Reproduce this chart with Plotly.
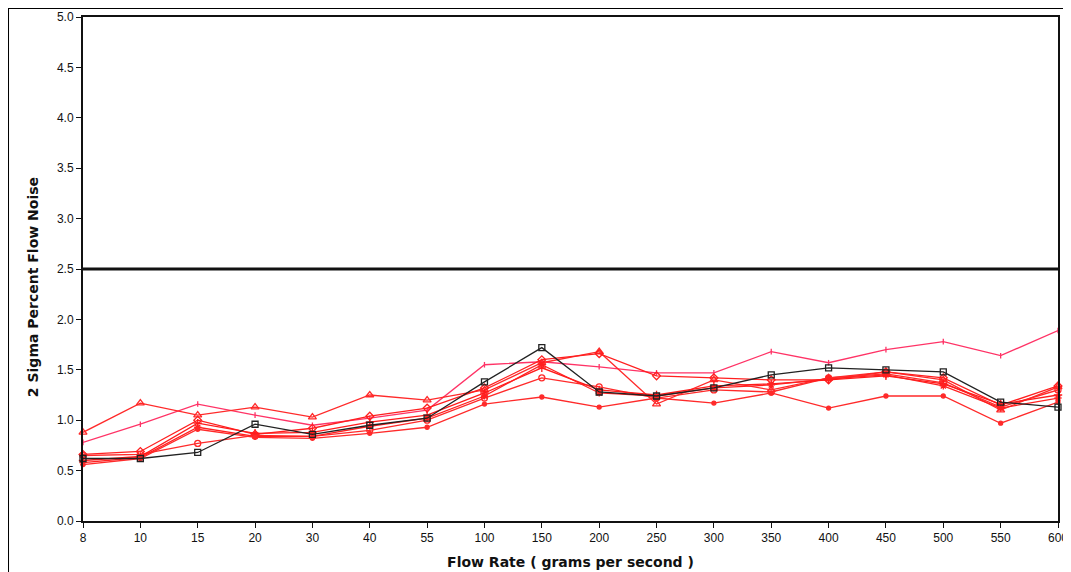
import plotly.graph_objects as go

flow_rates = ["8", "10", "15", "20", "30", "40", "55", "100", "150", "200",
              "250", "300", "350", "400", "450", "500", "550", "600"]

black_sq = [0.62, 0.62, 0.68, 0.96, 0.86, 0.95, 1.02, 1.38, 1.72, 1.28, 1.24, 1.32, 1.45, 1.52, 1.50, 1.48, 1.18, 1.13]
red_tri = [0.88, 1.17, 1.05, 1.13, 1.03, 1.25, 1.20, 1.30, 1.57, 1.68, 1.16, 1.40, 1.30, 1.42, 1.48, 1.40, 1.10, 1.33]
pink_top = [0.78, 0.96, 1.16, 1.05, 0.95, 1.02, 1.10, 1.55, 1.58, 1.53, 1.47, 1.47, 1.68, 1.57, 1.70, 1.78, 1.64, 1.89]
red_circle = [0.65, 0.66, 0.77, 0.85, 0.84, 0.90, 1.00, 1.22, 1.42, 1.33, 1.22, 1.30, 1.28, 1.42, 1.46, 1.37, 1.13, 1.30]
red_diamond = [0.66, 0.69, 1.00, 0.86, 0.92, 1.04, 1.12, 1.32, 1.60, 1.66, 1.44, 1.42, 1.40, 1.40, 1.48, 1.42, 1.15, 1.34]
red_plus = [0.60, 0.64, 0.97, 0.87, 0.88, 0.98, 1.05, 1.27, 1.52, 1.30, 1.25, 1.34, 1.36, 1.40, 1.44, 1.36, 1.16, 1.25]
red_star = [0.58, 0.63, 0.93, 0.84, 0.84, 0.94, 1.02, 1.24, 1.55, 1.27, 1.24, 1.32, 1.35, 1.41, 1.45, 1.34, 1.12, 1.22]
red_bottom = [0.56, 0.62, 0.91, 0.83, 0.82, 0.87, 0.93, 1.16, 1.23, 1.13, 1.22, 1.17, 1.27, 1.12, 1.24, 1.24, 0.97, 1.18]
limit_value = 2.5

y_ticks = [0.0, 0.5, 1.0, 1.5, 2.0, 2.5, 3.0, 3.5, 4.0, 4.5, 5.0]
y_title = "2 Sigma Percent Flow Noise"
x_title = "Flow Rate ( grams per second )"

series = [
    (pink_top, "#ff3366", "line-ns-open", 4),
    (red_tri, "#ff2a2a", "triangle-up-open", 7),
    (red_diamond, "#ff1f1f", "diamond-open", 6),
    (red_circle, "#ff2a2a", "circle-open", 6),
    (red_plus, "#ff1a1a", "cross-thin-open", 6),
    (red_star, "#ff2020", "asterisk-open", 6),
    (red_bottom, "#ff2a2a", "circle", 4),
    (black_sq, "#222222", "square-open", 6),
]

fig = go.Figure()
for vals, col, sym, sz in series:
    fig.add_trace(go.Scatter(
        x=flow_rates, y=vals, mode="lines+markers",
        line=dict(color=col, width=1.3),
        marker=dict(symbol=sym, size=sz, color=col, line=dict(color=col, width=1.3)),
        showlegend=False, cliponaxis=False,
    ))

fig.add_trace(go.Scatter(
    x=[flow_rates[0], flow_rates[-1]], y=[limit_value, limit_value],
    mode="lines", line=dict(color="#111111", width=3), showlegend=False,
))

fig.update_layout(
    width=1071, height=572,
    margin=dict(l=75, r=21, t=9, b=59),
    paper_bgcolor="white", plot_bgcolor="white",
    font=dict(family="Liberation Sans, Arial, sans-serif", size=12, color="#111111"),
    xaxis=dict(
        type="category", range=[0, 17], automargin=False,
        showline=True, linecolor="#111111", linewidth=2, mirror=True,
        ticks="outside", ticklen=5, tickcolor="#111111",
        showgrid=False, zeroline=False,
        tickfont=dict(size=12),
        title=dict(text="<b>" + x_title + "</b>",
                   font=dict(family="DejaVu Sans, Verdana, sans-serif", size=14), standoff=13),
    ),
    yaxis=dict(
        range=[0, 5], tickvals=y_ticks, tickformat=".1f", automargin=False,
        showline=True, linecolor="#111111", linewidth=2, mirror=True,
        ticks="outside", ticklen=5, tickcolor="#111111",
        showgrid=False, zeroline=False,
        tickfont=dict(size=12),
    ),
    annotations=[dict(text="<b>" + y_title + "</b>", xref="paper", yref="paper",
                      x=-0.0513, y=0.464, textangle=-90, showarrow=False,
                      xanchor="center", yanchor="middle",
                      font=dict(family="DejaVu Sans, Verdana, sans-serif", size=14, color="#111111"))],
    shapes=[dict(type="rect", xref="paper", yref="paper",
                 x0=-0.0769, x1=1.0103, y0=-0.13, y1=1.0179,
                 line=dict(color="#000000", width=2), fillcolor="rgba(0,0,0,0)")],
)

fig.write_html("out.html")
